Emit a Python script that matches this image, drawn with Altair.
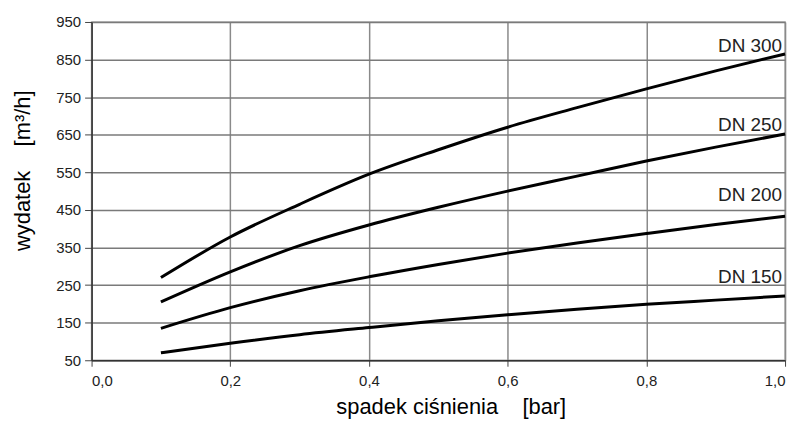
import altair as alt
import pandas as pd

x_vals = [0.1, 0.2, 0.3, 0.4, 0.5, 0.6, 0.7, 0.8, 0.9, 1.0]
dn300 = [270, 378, 465, 545, 610, 670, 722, 772, 820, 865]
dn250 = [205, 285, 355, 410, 457, 500, 540, 580, 617, 652]
dn200 = [135, 190, 235, 272, 305, 335, 362, 387, 411, 433]
dn150 = [70, 95, 118, 137, 155, 171, 186, 199, 210, 221]

series_names = ["DN 300", "DN 250", "DN 200", "DN 150"]
label_y = [871, 661, 473, 256]

x_ticks = [0, 0.2, 0.4, 0.6, 0.8, 1.0]
y_ticks = [50, 150, 250, 350, 450, 550, 650, 750, 850, 950]

rows = []
for name, vals in zip(series_names, [dn300, dn250, dn200, dn150]):
    for xv, yv in zip(x_vals, vals):
        rows.append({"x": xv, "y": yv, "s": name})
df = pd.DataFrame(rows)
lab = pd.DataFrame({"s": series_names, "x": [1.0] * 4, "y": label_y})

FONT = "Liberation Sans"
NB = "\u00a0"

xscale = alt.Scale(domain=[0, 1.0], nice=False, zero=False)
yscale = alt.Scale(domain=[50, 950], nice=False, zero=False)

xaxis = alt.Axis(values=x_ticks,
                 labelExpr="replace(format(datum.value, '.1f'), '.', ',')",
                 title="spadek ciśnienia" + NB * 4 + "[bar]",
                 titleX=361, titleY=47, titleBaseline="middle",
                 labelPadding=7, tickSize=6, labelOverlap=False,
                 gridColor="#8a8a8a")
yaxis = alt.Axis(values=y_ticks,
                 title="wydatek" + NB * 4 + "[m³/h]",
                 titleX=-69, titleY=149, titleAngle=-90,
                 titleBaseline="middle", titleAlign="center",
                 labelPadding=4, tickSize=7, labelOverlap=False,
                 gridColor="#7a7a7a")

lines = alt.Chart(df).mark_line(color="black", strokeWidth=3, interpolate="monotone").encode(
    x=alt.X("x:Q", scale=xscale, axis=xaxis),
    y=alt.Y("y:Q", scale=yscale, axis=yaxis),
    detail="s:N",
)

labels = alt.Chart(lab).mark_text(align="right", baseline="alphabetic", dx=-3,
                                  font=FONT, fontSize=19, color="#222").encode(
    x=alt.X("x:Q", scale=xscale, axis=xaxis),
    y=alt.Y("y:Q", scale=yscale, axis=yaxis),
    text="s:N",
)

chart = (lines + labels).properties(
    width=697, height=340,
    autosize=alt.AutoSizeParams(type="none"),
    padding={"left": 84, "top": 13, "right": 10, "bottom": 62},
).configure_view(
    stroke="#aaaaaa", strokeWidth=1.5
).configure_axis(
    labelFont=FONT, labelFontSize=15, labelColor="#222",
    titleFont=FONT, titleFontSize=22, titleFontWeight="normal", titleColor="#000",
    tickColor="#444", domainColor="#333", domainWidth=1.5, gridWidth=1.5,
)

chart.save("out.html", embed_options={"renderer": "svg", "actions": False})
